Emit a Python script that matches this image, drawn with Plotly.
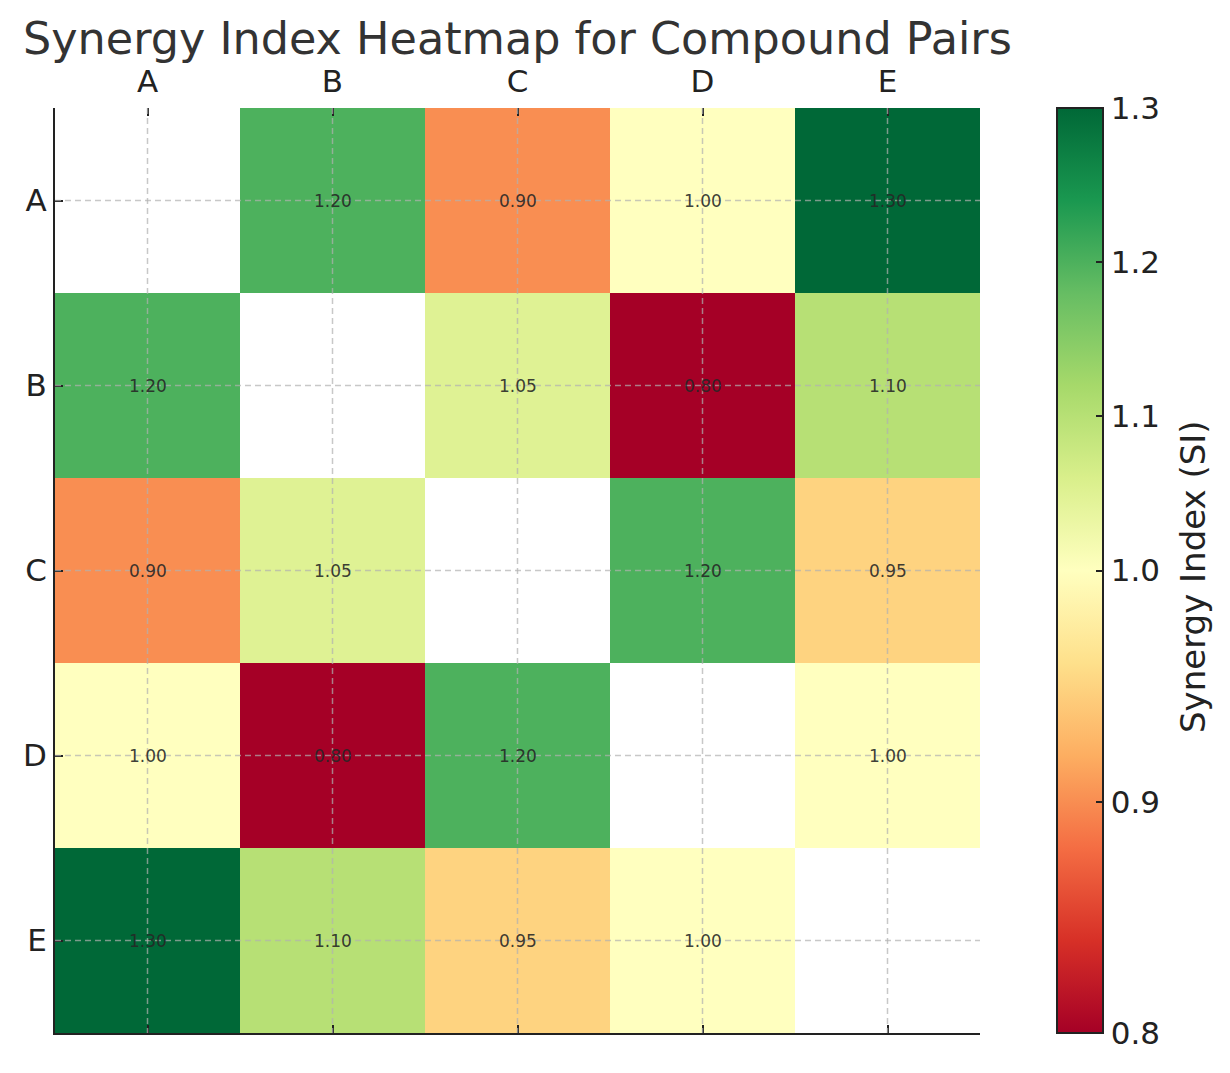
import plotly.graph_objects as go

compounds = ["A", "B", "C", "D", "E"]
si_matrix = [
    [None, 1.20, 0.90, 1.00, 1.30],
    [1.20, None, 1.05, 0.80, 1.10],
    [0.90, 1.05, None, 1.20, 0.95],
    [1.00, 0.80, 1.20, None, 1.00],
    [1.30, 1.10, 0.95, 1.00, None],
]
cbar_ticks = [0.8, 0.9, 1.0, 1.1, 1.2, 1.3]
vmin, vcenter, vmax = 0.8, 1.0, 1.3

rdylgn = ['rgb(165,0,38)', 'rgb(215,48,39)', 'rgb(244,109,67)', 'rgb(253,174,97)',
          'rgb(254,224,139)', 'rgb(255,255,191)', 'rgb(217,239,139)', 'rgb(166,217,106)',
          'rgb(102,189,99)', 'rgb(26,152,80)', 'rgb(0,104,55)']
cscale = [[i / 10, c] for i, c in enumerate(rdylgn)]


def norm(v):
    # two-slope normalisation centred on 1.0
    if v is None:
        return None
    if v < vcenter:
        return 0.5 * (v - vmin) / (vcenter - vmin)
    return 0.5 + 0.5 * (v - vcenter) / (vmax - vcenter)


z_norm = [[norm(v) for v in row] for row in si_matrix]

FONT = "DejaVu Sans"
idx = list(range(len(compounds)))

fig = go.Figure()
fig.add_trace(go.Heatmap(
    x=idx, y=idx, z=z_norm,
    customdata=si_matrix,
    colorscale=cscale, zmin=0, zmax=1,
    hoverongaps=False,
    hovertemplate="%{customdata:.2f}<extra></extra>",
    colorbar=dict(
        x=1.0832, xanchor="left", xref="paper", xpad=0,
        y=0, yanchor="bottom", len=1, lenmode="fraction", ypad=0,
        thickness=46, outlinewidth=2, outlinecolor="#222",
        ticks="inside", ticklen=8, tickwidth=2, tickcolor="#222",
        tickvals=[norm(t) for t in cbar_ticks], ticktext=[f"{t:.1f}" for t in cbar_ticks],
        tickfont=dict(family=FONT, size=31, color="#222"),
    ),
))
# invisible trace so the bottom (mirror) axis is drawn
fig.add_trace(go.Scatter(x=[None], y=[None], xaxis="x2", yaxis="y", mode="markers",
                         showlegend=False, hoverinfo="skip"))

fig.add_annotation(text="Synergy Index (SI)", xref="paper", yref="paper",
                   x=1.2303, y=0.493, textangle=-90, showarrow=False,
                   xanchor="center", yanchor="middle",
                   font=dict(family=FONT, size=34, color="#222"))

for i, row in enumerate(si_matrix):
    for j, v in enumerate(row):
        if v is None:
            continue
        fig.add_annotation(x=j, y=i, text=f"{v:.2f}", showarrow=False,
                           font=dict(family=FONT, size=17, color="rgba(38,38,38,0.9)"))

# dashed grid drawn above the cells, at each category centre
gline = dict(color="rgba(176,176,176,0.7)", width=1.5, dash="6px,4px")
for k in idx:
    fig.add_shape(type="line", xref="x", yref="y", x0=k, x1=k, y0=-0.5, y1=4.5,
                  line=gline, layer="above")
    fig.add_shape(type="line", xref="x", yref="y", x0=-0.5, x1=4.5, y0=k, y1=k,
                  line=gline, layer="above")

fig.update_layout(
    width=1230, height=1073,
    margin=dict(l=47, r=258, t=100, b=48),
    paper_bgcolor="white", plot_bgcolor="white",
    showlegend=False,
    title=dict(text="Synergy Index Heatmap for Compound Pairs", x=15 / 1230, xanchor="left",
               xref="container", y=1 - 30 / 1073, yanchor="middle",
               font=dict(family=FONT, size=44.5, color="#333")),
    xaxis=dict(side="top", range=[-0.5, 4.5], tickvals=idx, ticktext=compounds,
               ticks="inside", ticklen=8, tickwidth=2, tickcolor="#222",
               showline=False, showgrid=False, zeroline=False, ticklabelstandoff=9,
               tickfont=dict(family=FONT, size=31, color="#222")),
    xaxis2=dict(overlaying="x", side="bottom", range=[-0.5, 4.5], tickvals=idx,
                showticklabels=False, ticks="inside", ticklen=8, tickwidth=2,
                tickcolor="#222", showline=True, linecolor="#222", linewidth=2,
                showgrid=False, zeroline=False, layer="above traces"),
    yaxis=dict(range=[4.5, -0.5], tickvals=idx, ticktext=compounds,
               ticks="inside", ticklen=8, tickwidth=2, tickcolor="#222",
               showline=True, linecolor="#222", linewidth=2,
               showgrid=False, zeroline=False, layer="above traces",
               tickfont=dict(family=FONT, size=31, color="#222")),
)

fig.write_html("out.html")
